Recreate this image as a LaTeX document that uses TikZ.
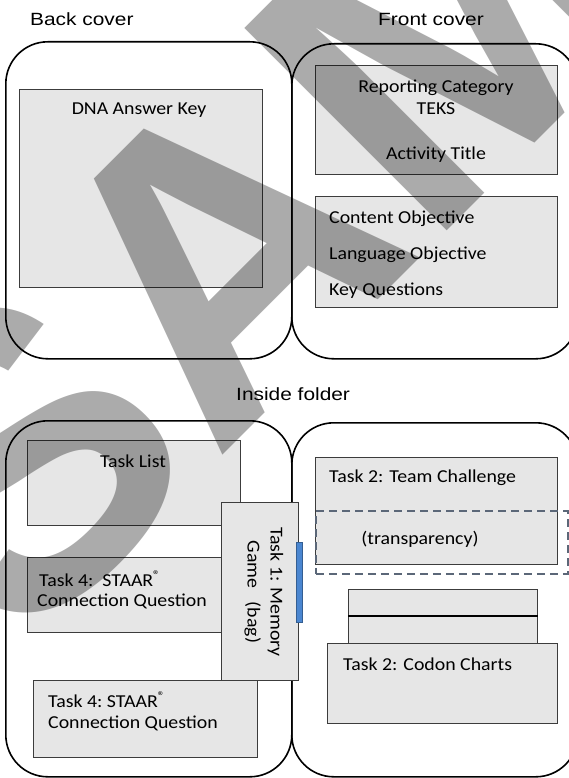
\documentclass[tikz,border=0pt]{standalone}
\usepackage{fontspec}
\newfontfamily\boxfont[FakeStretch=1.09]{Carlito}
\newfontfamily\headfont[FakeStretch=1.18]{Liberation Sans}
\newfontfamily\markfont{Liberation Sans}
\usetikzlibrary{positioning}
\definecolor{boxgray}{HTML}{E6E6E6}
\definecolor{edgegray}{HTML}{3C3C3C}
\definecolor{dashblue}{HTML}{5B6778}
\definecolor{tabblue}{HTML}{4A86D0}

\begin{document}
\begin{tikzpicture}[
x=1pt, y=-1pt,
cover/.style={
    draw=black,
    line width=1.6pt,
    rounded corners=42pt,
    inner sep=0pt,
    anchor=north west
},
box/.style={
    draw=edgegray,
    fill=boxgray,
    line width=1pt,
    inner sep=0pt,
    anchor=north west
},
boxtext/.style={
    inner sep=0pt,
    font=\boxfont\fontsize{18.2}{20.5}\selectfont
},
heading/.style={
    inner sep=0pt,
    anchor=base west,
    font=\headfont\fontsize{17.7}{20}\selectfont
}
]

\useasboundingbox (0,0) rectangle (569,778);
\clip (0,0) rectangle (569,778);

\node[heading] (backtitle) at (30,26) {Back cover};
\node[heading] (fronttitle) at (378,26) {Front cover};
\node[heading] (insidetitle) at (236,400) {Inside folder};

\node[cover, minimum width=286pt, minimum height=317pt] (back) at (5,41) {};
\node[cover, minimum width=286pt, minimum height=315pt] (front) at (291,43) {};
\node[cover, minimum width=286pt, minimum height=356pt] (inleft) at (5,420) {};
\node[cover, minimum width=286pt, minimum height=354pt] (inright) at (291,422) {};

\node[box, minimum width=243pt, minimum height=198pt] (answer) at (19,89) {};
\node[boxtext, anchor=base] at (139,115) {DNA Answer Key};

\node[box, minimum width=242pt, minimum height=109pt] (category) at (315,65) {};
\node[boxtext, anchor=base] at (436,93) {Reporting Category};
\node[boxtext, anchor=base] at (436,115) {TEKS};
\node[boxtext, anchor=base] at (436,160) {Activity Title};

\node[box, minimum width=242pt, minimum height=111pt] (objectives) at (315,196) {};
\node[boxtext, anchor=base west] at (329,223) {Content Objective};
\node[boxtext, anchor=base west] at (329,259) {Language Objective};
\node[boxtext, anchor=base west] at (329,295) {Key Questions};

\node[box, minimum width=213pt, minimum height=85pt] (tasklist) at (27,440) {};
\node[boxtext, anchor=base] at (133,467) {Task List};

\node[box, minimum width=194pt, minimum height=75pt] (staarA) at (27,557) {};
\node[boxtext, anchor=base west] at (39,586) {Task 4:\ \ STAAR\textsuperscript{®}};
\node[boxtext, anchor=base west] at (37,606) {Connection Question};

\node[box, minimum width=77pt, minimum height=178pt] (memory) at (221,502) {};
\node[boxtext, rotate=-90, align=center,
  font=\boxfont\fontsize{18.2}{23}\selectfont] at (264,592)
{Task 1: Memory\\Game\ \ \ (bag)};

\node[box, minimum width=224pt, minimum height=77pt] (staarB) at (33,680) {};
\node[boxtext, anchor=base west] at (48,707) {Task 4:\ STAAR\textsuperscript{®}};
\node[boxtext, anchor=base west] at (48,728) {Connection Question};

\node[draw=tabblue!70!black, fill=tabblue, line width=0.6pt, inner sep=0pt,
  anchor=north west, minimum width=6pt, minimum height=80pt] (tab) at (296,542) {};

\node[box, minimum width=242pt, minimum height=107pt] (team) at (315,457) {};
\node[boxtext, anchor=base west] at (329,482) {Task 2: Team Challenge};

\node[draw=dashblue, line width=1.8pt, dash pattern=on 8pt off 5pt,
  inner sep=0pt, anchor=north west,
  minimum width=252pt, minimum height=63pt] (sheet) at (315,510) {};
\node[boxtext, anchor=base] at (420,544) {(transparency)};

\node[box, minimum width=189pt, minimum height=26pt] (chartA) at (348,589) {};
\node[box, minimum width=189pt, minimum height=28pt] (chartB) at (348,615) {};
\draw[line width=1.8pt] (chartA.south west) -- (chartA.south east);

\node[box, minimum width=230pt, minimum height=80pt] (codon) at (327,643) {};
\node[boxtext, anchor=base west] at (343,670) {Task 2: Codon Charts};

\node[rotate=45, anchor=base west, inner sep=0pt, opacity=0.33, text opacity=0.33,
  font=\markfont\bfseries\fontsize{416}{416}\selectfont] (mark) at (19,659) {SAMPLE};

\end{tikzpicture}
\end{document}
